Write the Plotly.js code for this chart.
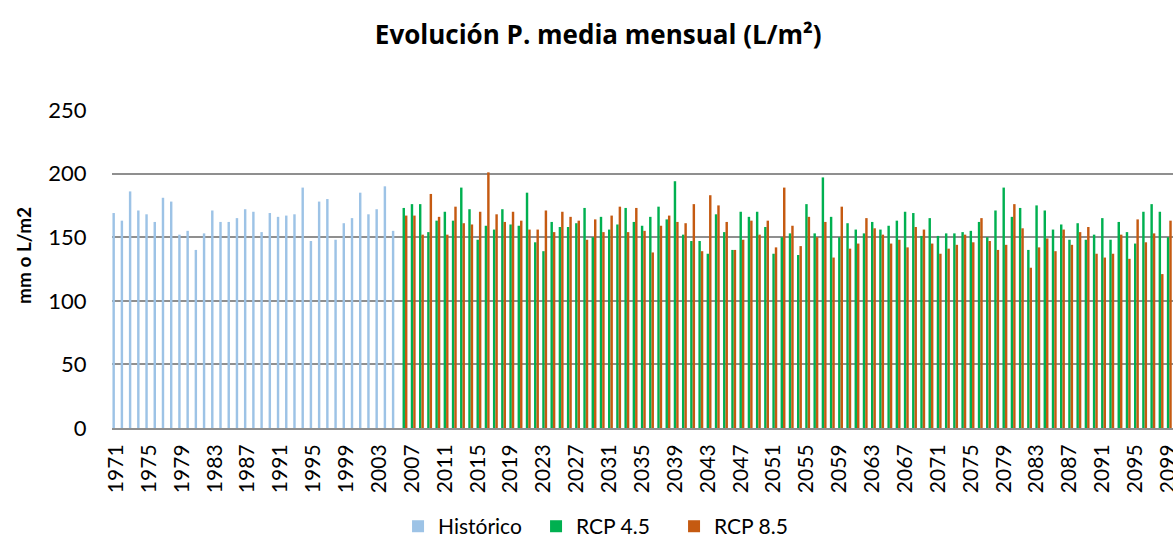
<!DOCTYPE html>
<html>
<head>
<meta charset="utf-8">
<script src="https://cdn.plot.ly/plotly-3.0.1.min.js"></script>
<style>html,body{margin:0;padding:0;background:#fff;overflow:hidden;}#chart{width:1173px;height:539px;}</style>
</head>
<body>
<div id="chart"></div>
<script>
// Historical years 1971-2005
var histStart = 1971;
var histValues = [
  169, 163, 186, 171, 168, 162, 181, 178, 152, 155,
  140, 153, 171, 162, 162, 165, 172, 170, 154, 169,
  166, 167, 168, 189, 147, 178, 180, 148, 161, 165,
  185, 168, 172, 190, 155
];
// Projection years 2006-2099
var projStart = 2006;
var rcp45Values = [
  173, 176, 176, 154, 163, 170, 163, 189, 172, 148,
  159, 156, 172, 160, 159, 185, 146, 139, 162, 158,
  158, 161, 173, 150, 166, 156, 160, 173, 162, 159,
  166, 174, 164, 194, 152, 147, 147, 137, 168, 154,
  140, 170, 166, 170, 158, 137, 150, 153, 136, 176,
  153, 197, 166, 150, 161, 156, 153, 162, 156, 159,
  163, 170, 169, 151, 165, 151, 153, 153, 154, 155,
  162, 150, 171, 189, 166, 173, 140, 175, 171, 156,
  160, 148, 161, 148, 152, 165, 148, 162, 154, 145,
  170, 176, 170, 150
];
var rcp85Values = [
  167, 167, 152, 184, 166, 152, 174, 161, 160, 170,
  201, 168, 162, 170, 163, 156, 156, 171, 154, 170,
  166, 163, 148, 164, 154, 167, 174, 154, 173, 155,
  138, 159, 167, 162, 161, 176, 139, 183, 175, 162,
  140, 148, 163, 152, 163, 142, 189, 159, 143, 166,
  150, 162, 134, 174, 141, 145, 165, 157, 152, 145,
  148, 142, 158, 156, 145, 137, 141, 144, 152, 146,
  165, 147, 140, 144, 176, 157, 126, 142, 149, 139,
  156, 144, 154, 158, 137, 134, 137, 152, 133, 164,
  146, 153, 121, 163
];
var seriesNames = ['Histórico', 'RCP 4.5', 'RCP 8.5'];
var titleText = 'Evolución P. media mensual (L/m²)';
var yTitleText = 'mm o L/m2';

var histYears = histValues.map(function(_, i){ return histStart + i; });
var projYears = rcp45Values.map(function(_, i){ return projStart + i; });

var FONT = 'Lato, "Open Sans", sans-serif';
var TFONT = '"Open Sans", Lato, sans-serif';

var traces = [
  {type:'bar', name:seriesNames[0], x:histYears, y:histValues, marker:{color:'#9DC3E6'}},
  {type:'bar', name:seriesNames[1], x:projYears, y:rcp45Values, marker:{color:'#00B050'}},
  {type:'bar', name:seriesNames[2], x:projYears, y:rcp85Values, marker:{color:'#C55A11'}}
];

var layout = {
  width: 1173, height: 539, autosize: false,
  margin: {l:112, r:0, t:110, b:111, autoexpand: false},
  paper_bgcolor:'#ffffff', plot_bgcolor:'#ffffff',
  font: {family: FONT, color:'#000000'},
  barmode: 'group', bargap: 0.11, bargroupgap: 0,
  showlegend: true,
  title: {text: '<b>' + titleText + '</b>', font:{family:TFONT, size:26, color:'#000'},
          xref:'container', x: 0.51, xanchor:'center', yref:'container', y: 1 - 35/539, yanchor:'middle'},
  xaxis: {
    range: [1970.5, 2099.6], tick0: 1971, dtick: 4, tickangle: -90, automargin: false,
    ticklabeloverflow: 'allow',
    tickfont: {family:FONT, size:21, color:'#000'},
    ticks: 'outside', ticklen: 6, tickcolor:'rgba(0,0,0,0)',
    showgrid: false, zeroline: false,
    showline: true, linecolor:'#8f8f8f', linewidth: 2
  },
  yaxis: {
    range: [0, 250], tickvals:[0,50,100,150,200,250], automargin: false,
    tickfont: {family:FONT, size:22, color:'#000'},
    ticks: 'outside', ticklen: 20, tickcolor:'rgba(0,0,0,0)',
    showgrid: true, gridcolor:'#8f8f8f', gridwidth: 2,
    zeroline: false, showline:false
  },
  annotations: [{
    text:'<b>' + yTitleText + '</b>', textangle: -90, showarrow:false,
    xref:'paper', x:0, xanchor:'center', xshift: -89,
    yref:'paper', y:(428-256)/318, yanchor:'middle',
    font:{family:FONT, size:19, color:'#000'}
  }],
  legend: {
    orientation:'h', x: 0.2696, xanchor:'left', y: -0.31, yanchor:'middle',
    entrywidth: 93, entrywidthmode:'pixels',
    font:{family:FONT, size:21, color:'#000'}, itemwidth: 30, traceorder:'normal'
  }
};

Plotly.newPlot('chart', traces, layout, {displayModeBar:false, staticPlot:true});
</script>
</body>
</html>
